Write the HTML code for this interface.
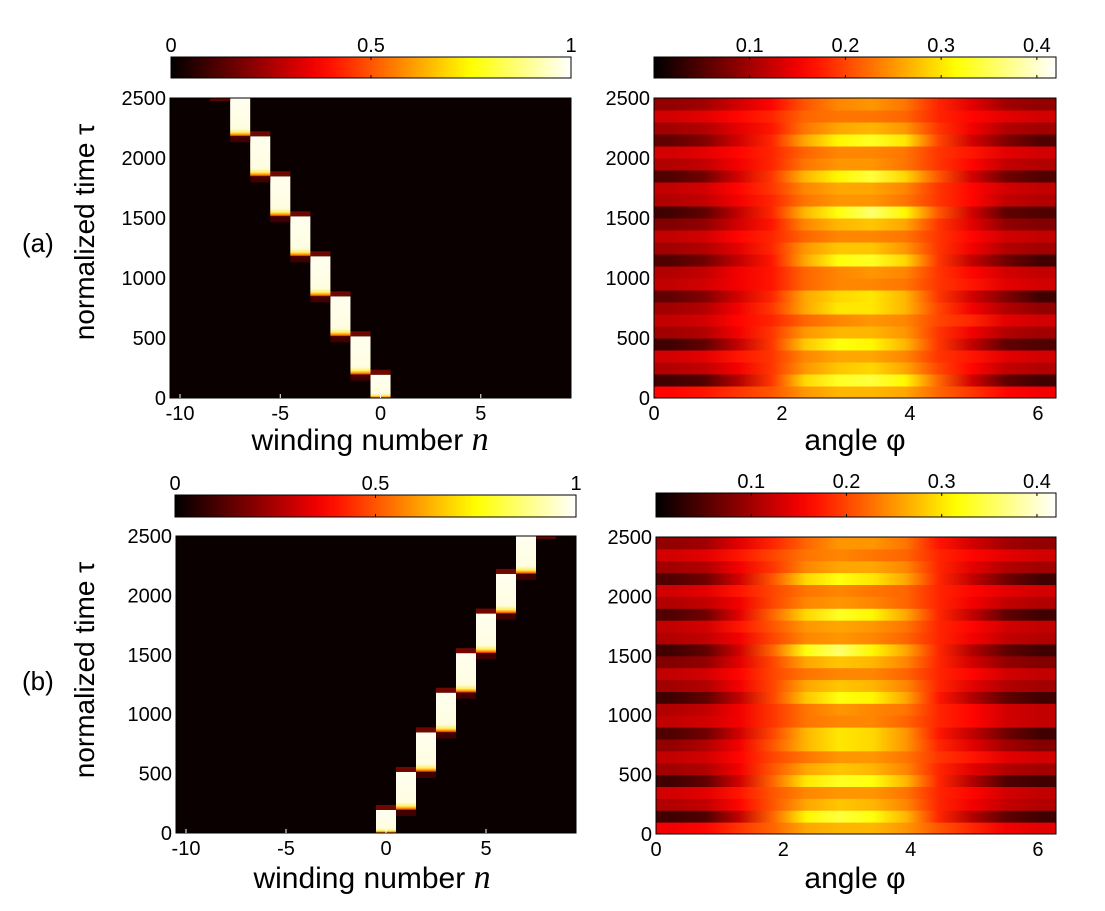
<!DOCTYPE html>
<html><head><meta charset="utf-8"><style>
body{margin:0;background:#fff;}
svg{display:block;font-family:"Liberation Sans",sans-serif;}
</style></head><body>
<svg id="fig" width="1105" height="911" viewBox="0 0 1105 911" xmlns="http://www.w3.org/2000/svg">
<defs id="defs"></defs>
<text x="22" y="252" font-size="26">(a)</text>
<text x="22" y="690" font-size="26">(b)</text>
<text transform="translate(94,232) rotate(-90)" text-anchor="middle" font-size="28">normalized time τ</text>
<text transform="translate(94,670) rotate(-90)" text-anchor="middle" font-size="28">normalized time τ</text>
<text x="370" y="450" text-anchor="middle" font-size="30">winding number <tspan font-family="Liberation Serif" font-style="italic" font-size="34">n</tspan></text>
<text x="372" y="888" text-anchor="middle" font-size="30">winding number <tspan font-family="Liberation Serif" font-style="italic" font-size="34">n</tspan></text>
<text x="855" y="450" text-anchor="middle" font-size="30">angle φ</text>
<text x="855" y="888" text-anchor="middle" font-size="30">angle φ</text>
</svg>
<script>
// ---- data ----
const timeTicks = [0, 500, 1000, 1500, 2000, 2500];
const windingTicks = [-10, -5, 0, 5];
const angleTicks = [0, 2, 4, 6];
const cbarTicksLeft = [0, 0.5, 1];
const cbarTicksRight = [0.1, 0.2, 0.3, 0.4];
const blockNA = [0, -1, -2, -3, -4, -5, -6, -7];
const blockNB = [0, 1, 2, 3, 4, 5, 6, 7];
const blockStart = [0, 194, 514, 847, 1181, 1514, 1847, 2181];
const blockEnd = [194, 514, 847, 1181, 1514, 1847, 2181, 2500];
const gridA = [
[0.16,0.17,0.19,0.21,0.25,0.27,0.27,0.26,0.22,0.19,0.16,0.15],
[0.04,0.05,0.11,0.19,0.29,0.33,0.34,0.31,0.22,0.13,0.06,0.04],
[0.11,0.12,0.15,0.19,0.25,0.28,0.29,0.26,0.20,0.16,0.12,0.11],
[0.13,0.14,0.17,0.19,0.24,0.26,0.26,0.24,0.19,0.17,0.14,0.13],
[0.04,0.06,0.12,0.19,0.28,0.32,0.31,0.27,0.19,0.12,0.06,0.05],
[0.10,0.11,0.15,0.19,0.25,0.27,0.27,0.25,0.19,0.15,0.11,0.10],
[0.12,0.13,0.16,0.18,0.22,0.24,0.25,0.24,0.20,0.18,0.14,0.13],
[0.10,0.11,0.15,0.19,0.26,0.30,0.30,0.27,0.20,0.15,0.11,0.09],
[0.06,0.08,0.13,0.18,0.26,0.29,0.30,0.27,0.19,0.13,0.08,0.04],
[0.12,0.13,0.15,0.17,0.22,0.24,0.24,0.23,0.19,0.17,0.14,0.13],
[0.11,0.12,0.15,0.17,0.22,0.24,0.25,0.24,0.19,0.16,0.13,0.12],
[0.05,0.07,0.12,0.17,0.26,0.32,0.33,0.29,0.19,0.12,0.07,0.04],
[0.10,0.11,0.14,0.18,0.25,0.28,0.28,0.25,0.19,0.15,0.11,0.10],
[0.12,0.13,0.16,0.18,0.22,0.24,0.24,0.23,0.19,0.16,0.13,0.12],
[0.08,0.09,0.13,0.17,0.24,0.27,0.28,0.26,0.19,0.14,0.09,0.08],
[0.04,0.06,0.12,0.18,0.27,0.32,0.36,0.31,0.21,0.13,0.06,0.05],
[0.11,0.12,0.15,0.18,0.23,0.25,0.25,0.23,0.19,0.16,0.12,0.11],
[0.12,0.13,0.16,0.19,0.24,0.26,0.26,0.24,0.19,0.16,0.13,0.12],
[0.05,0.07,0.13,0.19,0.27,0.31,0.34,0.29,0.21,0.13,0.07,0.05],
[0.11,0.12,0.15,0.18,0.23,0.25,0.25,0.23,0.19,0.16,0.12,0.11],
[0.13,0.14,0.16,0.18,0.22,0.24,0.24,0.23,0.19,0.17,0.14,0.13],
[0.06,0.08,0.13,0.18,0.26,0.31,0.33,0.30,0.20,0.13,0.08,0.05],
[0.10,0.11,0.14,0.17,0.23,0.26,0.27,0.25,0.19,0.15,0.11,0.10],
[0.13,0.14,0.16,0.18,0.22,0.23,0.23,0.22,0.18,0.16,0.14,0.13],
[0.09,0.10,0.13,0.16,0.21,0.24,0.25,0.23,0.18,0.14,0.10,0.09]
];
const gridB = [
[0.15,0.16,0.19,0.22,0.26,0.27,0.27,0.25,0.21,0.18,0.15,0.14],
[0.04,0.05,0.12,0.22,0.31,0.34,0.32,0.27,0.18,0.11,0.06,0.04],
[0.11,0.12,0.16,0.21,0.26,0.28,0.27,0.24,0.18,0.15,0.12,0.11],
[0.13,0.14,0.17,0.21,0.24,0.25,0.25,0.23,0.18,0.16,0.13,0.12],
[0.04,0.06,0.13,0.22,0.30,0.33,0.32,0.27,0.18,0.11,0.05,0.04],
[0.10,0.11,0.15,0.21,0.26,0.28,0.27,0.24,0.18,0.14,0.11,0.10],
[0.12,0.13,0.16,0.20,0.23,0.25,0.25,0.23,0.19,0.17,0.14,0.13],
[0.09,0.11,0.15,0.21,0.27,0.30,0.29,0.25,0.18,0.14,0.10,0.08],
[0.05,0.07,0.13,0.20,0.27,0.30,0.29,0.25,0.17,0.12,0.07,0.04],
[0.12,0.13,0.15,0.19,0.23,0.24,0.24,0.22,0.18,0.16,0.13,0.12],
[0.11,0.12,0.15,0.19,0.23,0.25,0.24,0.23,0.18,0.16,0.13,0.12],
[0.04,0.06,0.12,0.20,0.28,0.32,0.31,0.26,0.17,0.11,0.06,0.04],
[0.10,0.11,0.15,0.20,0.26,0.28,0.27,0.24,0.18,0.14,0.11,0.10],
[0.12,0.13,0.16,0.20,0.23,0.24,0.24,0.22,0.18,0.16,0.13,0.12],
[0.08,0.09,0.14,0.20,0.26,0.28,0.27,0.24,0.18,0.13,0.09,0.08],
[0.04,0.06,0.13,0.22,0.32,0.36,0.31,0.26,0.18,0.11,0.06,0.04],
[0.11,0.12,0.15,0.20,0.24,0.25,0.24,0.22,0.18,0.15,0.12,0.11],
[0.12,0.13,0.17,0.21,0.25,0.26,0.25,0.23,0.18,0.16,0.13,0.12],
[0.05,0.07,0.14,0.22,0.29,0.33,0.31,0.26,0.18,0.12,0.06,0.04],
[0.11,0.12,0.15,0.20,0.24,0.25,0.24,0.22,0.18,0.15,0.12,0.11],
[0.13,0.14,0.17,0.20,0.23,0.24,0.23,0.22,0.18,0.16,0.14,0.13],
[0.05,0.07,0.13,0.21,0.29,0.32,0.30,0.26,0.18,0.12,0.07,0.04],
[0.10,0.11,0.15,0.19,0.24,0.26,0.26,0.24,0.18,0.14,0.11,0.10],
[0.13,0.14,0.17,0.20,0.23,0.24,0.23,0.22,0.18,0.16,0.14,0.13],
[0.09,0.10,0.14,0.18,0.22,0.25,0.25,0.23,0.17,0.13,0.10,0.09]
];
const tMax = 2500, nMin = -10.5, nMax = 9.5, phiMax = 2 * Math.PI, cMaxRight = 0.42;

// ---- helpers ----
const NS = "http://www.w3.org/2000/svg";
const svg = document.getElementById("fig");
const defs = document.getElementById("defs");
let gid = 0;
function mk(tag, attrs, parent) {
  const e = document.createElementNS(NS, tag);
  for (const k in attrs) e.setAttribute(k, attrs[k]);
  (parent || svg).appendChild(e);
  return e;
}
function hot(t) {
  t = Math.max(0, Math.min(1, t));
  const r = Math.min(1, t / 0.375), g = Math.max(0, Math.min(1, (t - 0.375) / 0.375)), b = Math.max(0, (t - 0.75) / 0.25);
  return `rgb(${Math.round(r * 255)},${Math.round(g * 255)},${Math.round(b * 255)})`;
}
function hGrad(stops) {
  const id = "g" + (gid++);
  const lg = mk("linearGradient", { id: id, x1: "0", y1: "0", x2: "1", y2: "0" }, defs);
  stops.forEach(s => mk("stop", { offset: s[0], "stop-color": s[1] }, lg));
  return id;
}
function vGrad(stops) {
  const id = "g" + (gid++);
  const lg = mk("linearGradient", { id: id, x1: "0", y1: "0", x2: "0", y2: "1" }, defs);
  stops.forEach(s => mk("stop", { offset: s[0], "stop-color": s[1] }, lg));
  return id;
}
function hotStops() { const s = []; for (let i = 0; i <= 20; i++) s.push([i / 20, hot(i / 20)]); return s; }

function colorbar(p, ticks, vmax, name) {
  const g = mk("g", {});
  
  
  const id = hGrad(hotStops());
  mk("rect", { x: p.x, y: p.y, width: p.w, height: p.h, fill: `url(#${id})`, stroke: "#000", "stroke-width": 1 }, g);
  ticks.forEach(v => {
    const x = p.x + v / vmax * p.w;
    mk("line", { x1: x, x2: x, y1: p.y, y2: p.y + 3, stroke: "#000" }, g);
    mk("line", { x1: x, x2: x, y1: p.y + p.h - 3, y2: p.y + p.h, stroke: "#000" }, g);
    const t = mk("text", { x: x, y: p.y - 5, "text-anchor": "middle", "font-size": 20 }, g);
    t.textContent = String(v);
    
    
  });
}
function yAxis(p, g) {
  timeTicks.forEach(v => {
    const y = p.y + p.h - v / tMax * p.h;
    const t = mk("text", { x: p.x - 4, y: y + 7, "text-anchor": "end", "font-size": 20 }, g);
    t.textContent = String(v);
    
    
  });
}
function windingPanel(p, blocks, name) {
  const g = mk("g", {});
  
  
  mk("rect", { x: p.x, y: p.y, width: p.w, height: p.h, fill: "#0a0000" }, g);
  const xs = n => p.x + (n - nMin) / (nMax - nMin) * p.w;
  const ys = t => p.y + p.h - t / tMax * p.h;
  const cw = p.w / (nMax - nMin);
  const bid = vGrad([[0, "#fffff0"], [0.8, "#fffde0"], [0.9, "#ffee60"], [0.96, "#ff8800"], [1, "#cc1000"]]);
  blocks.forEach((n, i) => {
    const x0 = xs(n - 0.5), y0 = ys(blockEnd[i]), y1 = ys(blockStart[i]);
    const r = mk("rect", { x: x0, y: y0, width: cw, height: y1 - y0, fill: `url(#${bid})` }, g);
    
    
    mk("rect", { x: x0, y: y0 - 5, width: cw, height: 5, fill: "#7a0800", opacity: i === blocks.length - 1 ? 0 : 0.9 }, g);
    if (i > 0) mk("rect", { x: x0, y: y1, width: cw, height: 6, fill: "#400000" }, g);
  });
  const last = blocks[blocks.length - 1], dir = blocks[1] - blocks[0];
  mk("rect", { x: xs(last + dir - 0.5), y: p.y, width: cw, height: 3, fill: "#5a0500" }, g);
  mk("rect", { x: p.x, y: p.y, width: p.w, height: p.h, fill: "none", stroke: "#000" }, g);
  yAxis(p, g);
  windingTicks.forEach(v => {
    const x = xs(v);
    mk("line", { x1: x, x2: x, y1: p.y + p.h, y2: p.y + p.h - 4, stroke: "#fff" }, g);
    const t = mk("text", { x: x, y: p.y + p.h + 22, "text-anchor": "middle", "font-size": 20 }, g);
    t.textContent = String(v);
    
    
  });
}
function anglePanel(p, grid, name) {
  const g = mk("g", {});
  
  
  const rows = grid.length, cols = grid[0].length;
  const xs = a => p.x + a / phiMax * p.w;
  const ys = t => p.y + p.h - t / tMax * p.h;
  const dt = tMax / rows;
  grid.forEach((row, i) => {
    const stops = row.map((v, j) => [(j + 0.5) / cols, hot(v / cMaxRight)]);
    const id = hGrad(stops);
    const y0 = ys((i + 1) * dt), y1 = ys(i * dt);
    const r = mk("rect", { x: p.x, y: y0, width: p.w, height: y1 - y0 + 0.5, fill: `url(#${id})` }, g);
    
    
  });
  mk("rect", { x: p.x, y: p.y, width: p.w, height: p.h, fill: "none", stroke: "#000" }, g);
  yAxis(p, g);
  angleTicks.forEach(v => {
    const x = xs(v);
    const t = mk("text", { x: x, y: p.y + p.h + 22, "text-anchor": "middle", "font-size": 20 }, g);
    t.textContent = String(v);
    
    
  });
}

colorbar({ x: 171, y: 57, w: 400, h: 21 }, cbarTicksLeft, 1, "colorbar-a-left");
colorbar({ x: 654, y: 57, w: 402, h: 21 }, cbarTicksRight, cMaxRight, "colorbar-a-right");
colorbar({ x: 175, y: 495, w: 401, h: 22 }, cbarTicksLeft, 1, "colorbar-b-left");
colorbar({ x: 656, y: 493, w: 400, h: 24 }, cbarTicksRight, cMaxRight, "colorbar-b-right");
windingPanel({ x: 170, y: 98, w: 401, h: 300 }, blockNA, "winding-heatmap-a");
windingPanel({ x: 176, y: 536, w: 400, h: 297 }, blockNB, "winding-heatmap-b");
anglePanel({ x: 654, y: 98, w: 402, h: 300 }, gridA, "angle-heatmap-a");
anglePanel({ x: 656, y: 537, w: 400, h: 297 }, gridB, "angle-heatmap-b");
</script>
</body></html>
